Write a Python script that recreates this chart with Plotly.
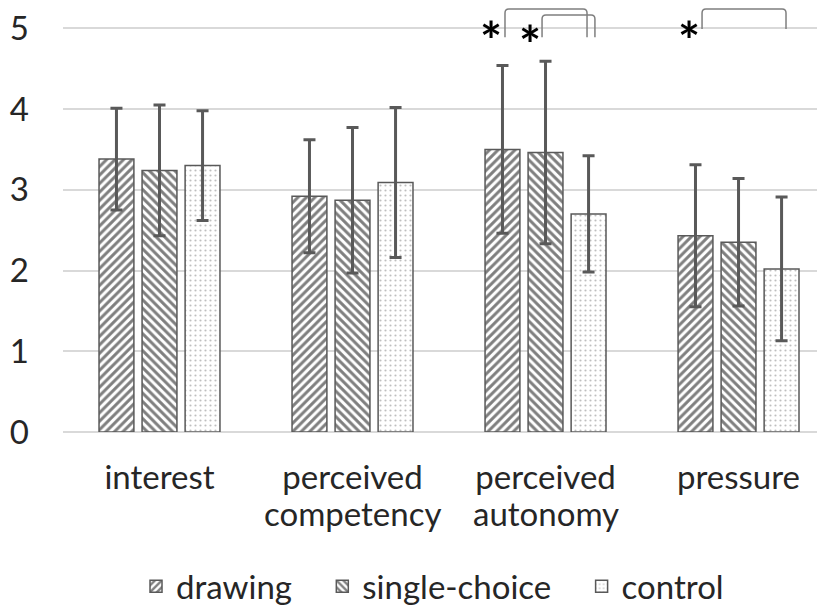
import plotly.graph_objects as go

categories = ["interest", "perceived competency", "perceived autonomy", "pressure"]
series_names = ["drawing", "single-choice", "control"]
drawing_mean = [3.38, 2.92, 3.50, 2.43]
drawing_sd = [0.63, 0.70, 1.04, 0.88]
single_mean = [3.24, 2.87, 3.46, 2.35]
single_sd = [0.81, 0.90, 1.13, 0.79]
control_mean = [3.30, 3.09, 2.70, 2.02]
control_sd = [0.68, 0.93, 0.72, 0.89]
y_ticks = [0, 1, 2, 3, 4, 5]

FONT = "Lato"
TXT = "#262626"
EDGE = "#595959"
NB = "\u00a0"

x_idx = list(range(len(categories)))
first_lines = [c.split(" ")[0] if " " in c else c for c in categories]
second_lines = [c.split(" ", 1)[1] if " " in c else "" for c in categories]

means = [drawing_mean, single_mean, control_mean]
sds = [drawing_sd, single_sd, control_sd]
patterns = [
    dict(shape="/", fgcolor="#000000", bgcolor="#ffffff", size=6, solidity=0.5),
    dict(shape="\\", fgcolor="#000000", bgcolor="#ffffff", size=6, solidity=0.5),
    dict(shape=".", fgcolor="#808080", bgcolor="#ffffff", size=5, solidity=0.15),
]
legend_pad = [NB * 3, NB * 3, ""]

fig = go.Figure()
for name, m, s, pat, pad in zip(series_names, means, sds, patterns, legend_pad):
    fig.add_trace(go.Bar(
        x=x_idx, y=m, name=name + pad,
        marker=dict(color="#ffffff", pattern=pat, line=dict(color=EDGE, width=1.5)),
        error_y=dict(type="data", array=s, visible=True, color=EDGE, thickness=3, width=6),
    ))

# significance brackets: (left x, right x, top y, bottom y)
brackets = [
    (1.79, 2.215, 5.24, 4.89),
    (1.982, 2.256, 5.165, 4.89),
    (2.811, 3.246, 5.24, 4.99),
]
rx, ry = 0.02, 0.05
shapes = []
for x1, x2, yt, yb in brackets:
    path = (f"M {x1},{yb} L {x1},{yt - ry} Q {x1},{yt} {x1 + rx},{yt} "
            f"L {x2 - rx},{yt} Q {x2},{yt} {x2},{yt - ry} L {x2},{yb}")
    shapes.append(dict(type="path", path=path, xref="x", yref="y",
                       line=dict(color="#7f7f7f", width=1.5)))

# significance stars (x in data units, y in paper units at top of plot)
stars = [(1.718, 1.0), (1.92, 0.99), (2.744, 1.0)]
annotations = [dict(x=sx, y=sy, xref="x", yref="paper", text="<b>*</b>", showarrow=False,
                    font=dict(family=FONT, size=52, color="#000000"),
                    xanchor="center", yanchor="top", borderpad=0) for sx, sy in stars]
for xi, line2 in zip(x_idx, second_lines):
    if line2:
        annotations.append(dict(x=xi, y=0, xref="x", yref="y", text=line2, showarrow=False,
                                font=dict(family=FONT, size=33, color=TXT),
                                xanchor="center", yanchor="top", yshift=-59))

fig.update_layout(
    width=817, height=603,
    margin=dict(l=55, r=0, t=0, b=179, autoexpand=False),
    paper_bgcolor="#ffffff", plot_bgcolor="#ffffff",
    barmode="group", bargap=0.331, bargroupgap=0.19,
    font=dict(family=FONT, size=33, color=TXT),
    showlegend=True,
    legend=dict(orientation="h", xref="container", yref="container",
                x=0.5196, xanchor="center", y=0.041, yanchor="middle",
                font=dict(family=FONT, size=33, color=TXT),
                traceorder="normal"),
    xaxis=dict(range=[-0.5, 3.448], tickmode="array", tickvals=x_idx, ticktext=first_lines,
               showgrid=False, zeroline=False, showline=False, ticks="", automargin=False,
               tickfont=dict(family=FONT, size=33, color=TXT), ticklabelstandoff=23,
               ticklabeloverflow="allow"),
    yaxis=dict(range=[0, 5.251], tickmode="array", tickvals=y_ticks, automargin=False,
               showgrid=True, gridcolor="#d9d9d9", gridwidth=1.5,
               zeroline=True, zerolinecolor="#d9d9d9", zerolinewidth=1.5,
               showline=False, ticks="", ticklabeloverflow="allow",
               tickfont=dict(family=FONT, size=33, color=TXT), ticklabelstandoff=33),
    shapes=shapes, annotations=annotations,
)

fig.write_html("out.html")
